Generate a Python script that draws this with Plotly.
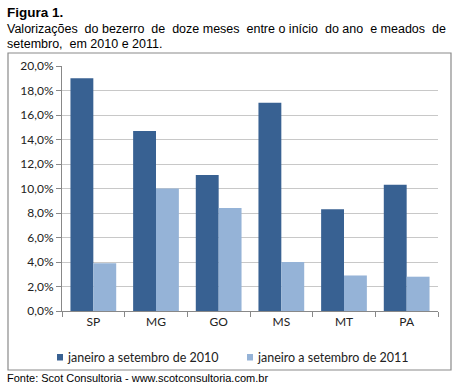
import plotly.graph_objects as go

categories = ["SP", "MG", "GO", "MS", "MT", "PA"]
serie_2010 = [19.0, 14.7, 11.1, 17.0, 8.3, 10.3]
serie_2011 = [3.9, 10.0, 8.4, 4.0, 2.9, 2.8]
nome_2010 = "janeiro a setembro de 2010"
nome_2011 = "janeiro a setembro de 2011"
y_ticks = [0, 2, 4, 6, 8, 10, 12, 14, 16, 18, 20]
y_ticktext = [f"{v:.1f}".replace(".", ",") + "%" for v in y_ticks]

COL_2010 = "#386192"
COL_2011 = "#95b3d7"

W, H = 464, 387
L, R, T, B = 62, 438, 66, 311

def px(x):
    return (x - L) / (R - L)

def py(y):
    return (B - y) / (B - T)

fig = go.Figure()
fig.add_trace(go.Bar(x=categories, y=serie_2010, name=nome_2010,
                     marker=dict(color=COL_2010, line=dict(width=0))))
fig.add_trace(go.Bar(x=categories, y=serie_2011, name=nome_2011,
                     marker=dict(color=COL_2011, line=dict(width=0))))

tickfont = dict(family="Lato, Carlito, sans-serif", size=12, color="#222")

fig.update_layout(
    width=W, height=H,
    margin=dict(l=L, r=W - R, t=T, b=H - B, autoexpand=False),
    paper_bgcolor="white", plot_bgcolor="white",
    barmode="group", bargap=0.27, bargroupgap=0,
    showlegend=False,
    xaxis=dict(type="category", tickson="boundaries", ticks="outside", ticklen=5,
               tickcolor="#888", showline=True, linecolor="#888", linewidth=1,
               tickfont=tickfont, showgrid=False, automargin=False),
    yaxis=dict(range=[0, 20], tickvals=y_ticks, ticktext=y_ticktext,
               ticks="outside", ticklen=5, tickcolor="#888", showline=True,
               linecolor="#888", linewidth=1, gridcolor="#c8c8c8", gridwidth=1,
               tickfont=tickfont, zeroline=False, automargin=False),
    font=dict(family="Liberation Sans", color="#000"),
)

# chart border box
fig.add_shape(type="rect", xref="paper", yref="paper",
              x0=px(8), x1=px(451), y0=py(370), y1=py(53),
              line=dict(color="#8a8a8a", width=1.2), layer="below")

# custom legend
legend_items = [(nome_2010, COL_2010, 57), (nome_2011, COL_2011, 247)]
for name, col, x0 in legend_items:
    fig.add_shape(type="rect", xref="paper", yref="paper",
                  x0=px(x0), x1=px(x0 + 6), y0=py(360.5), y1=py(354),
                  fillcolor=col, line=dict(width=0))
    fig.add_annotation(text=name, xref="paper", yref="paper",
                       x=px(x0 + 8), y=py(357), xanchor="left", yanchor="middle",
                       showarrow=False,
                       font=dict(family="Lato, Carlito, sans-serif", size=12.5, color="#222"))

NB = "\u00a0"
header_font = dict(family="Liberation Sans", size=12.5, color="#000")
fig.add_annotation(text="<b>Figura 1.</b>", xref="paper", yref="paper",
                   x=px(5), y=py(12), xanchor="left", yanchor="middle", showarrow=False,
                   font=dict(family="Liberation Sans", size=13.5, color="#000"))
line2 = ("Valorizações" + NB + " do bezerro" + NB + " de" + NB + " doze meses" + NB +
         " entre o início" + NB + " do ano" + NB + " e meados" + NB + " de")
fig.add_annotation(text=line2, xref="paper", yref="paper",
                   x=px(5), y=py(29), xanchor="left", yanchor="middle",
                   showarrow=False, font=header_font)
fig.add_annotation(text="setembro," + NB + " em 2010 e 2011.", xref="paper", yref="paper",
                   x=px(5), y=py(44), xanchor="left", yanchor="middle",
                   showarrow=False, font=header_font)
fig.add_annotation(text="Fonte: Scot Consultoria - www.scotconsultoria.com.br",
                   xref="paper", yref="paper",
                   x=px(5), y=py(378), xanchor="left", yanchor="middle", showarrow=False,
                   font=dict(family="Liberation Sans", size=11, color="#000"))

fig.write_html("out.html", config={"displayModeBar": False},
               post_script="document.body.style.margin='0';")
